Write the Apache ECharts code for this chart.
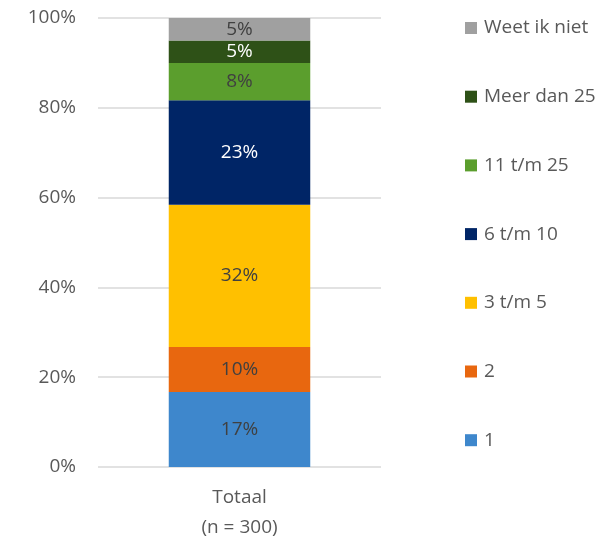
<!DOCTYPE html>
<html>
<head>
<meta charset="utf-8">
<script src="https://cdn.jsdelivr.net/npm/echarts@6/dist/echarts.min.js"></script>
<style>
html,body{margin:0;padding:0;background:#fff;}
#c{width:608px;height:539px;}
</style>
</head>
<body>
<div id="c"></div>
<script>
const categories = ['Totaal\n(n = 300)'];
const seriesNames = ['1', '2', '3 t/m 5', '6 t/m 10', '11 t/m 25', 'Meer dan 25', 'Weet ik niet'];
const values1 = [16.7];
const values2 = [10.0];
const values3to5 = [31.7];
const values6to10 = [23.3];
const values11to25 = [8.3];
const valuesMeer25 = [5.0];
const valuesWeetNiet = [5.0];
const yTicks = [0, 20, 40, 60, 80, 100];

const allValues = [values1, values2, values3to5, values6to10, values11to25, valuesMeer25, valuesWeetNiet];
const colors = ['#3E87CC', '#E8670F', '#FFC000', '#002566', '#5B9E2D', '#2E5117', '#A0A0A0'];
const labelColors = ['#404040', '#404040', '#404040', '#ffffff', '#404040', '#ffffff', '#404040'];
const FONT = 'Open Sans';
const FS = 19;

const chart = echarts.init(document.getElementById('c'));
chart.setOption({
  animation: false,
  textStyle: { fontFamily: FONT },
  grid: { left: 98, right: 227, top: 18, bottom: 72, outerBoundsMode: 'none' },
  legend: {
    orient: 'vertical',
    left: 465,
    top: 18,
    padding: 0,
    itemWidth: 12,
    itemHeight: 12,
    itemGap: 48.7,
    icon: 'rect',
    data: seriesNames.slice().reverse(),
    textStyle: { fontFamily: FONT, fontSize: FS, color: '#595959', lineHeight: 20, padding: [0, 0, 0, 2] }
  },
  xAxis: {
    type: 'category',
    data: categories,
    axisLine: { show: false },
    axisTick: { show: false },
    axisLabel: { fontFamily: FONT, fontSize: FS, color: '#595959', lineHeight: 30, margin: 16 }
  },
  yAxis: {
    type: 'value',
    min: yTicks[0],
    max: yTicks[yTicks.length - 1],
    interval: 20,
    axisLine: { show: false },
    axisTick: { show: false },
    splitLine: { lineStyle: { color: '#D9D9D9', width: 1.5 } },
    axisLabel: { fontFamily: FONT, fontSize: FS, color: '#595959', margin: 22, formatter: v => v + '%' }
  },
  series: seriesNames.map((name, i) => ({
    name: name,
    type: 'bar',
    stack: 'total',
    barWidth: '50%',
    data: allValues[i],
    itemStyle: { color: colors[i] },
    label: {
      show: true,
      position: 'inside',
      fontFamily: FONT,
      fontSize: FS,
      color: labelColors[i],
      formatter: p => Math.round(p.value) + '%'
    }
  }))
});
</script>
</body>
</html>
